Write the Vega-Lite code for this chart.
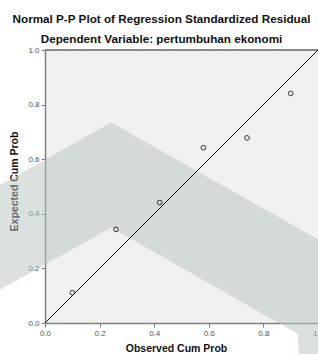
{
  "$schema": "https://vega.github.io/schema/vega-lite/v6.json",
  "width": 273,
  "height": 273,
  "autosize": {"type": "none"},
  "padding": {"left": 45, "top": 50, "right": 0, "bottom": 31},
  "background": "white",
  "title": {
    "text": "Normal P-P Plot of Regression Standardized Residual",
    "subtitle": "Dependent Variable: pertumbuhan ekonomi",
    "anchor": "middle",
    "dx": -20,
    "offset": 0,
    "font": "Liberation Sans",
    "fontSize": 11.7,
    "fontWeight": "bold",
    "color": "#111",
    "subtitleFont": "Liberation Sans",
    "subtitleFontSize": 11.7,
    "subtitleFontWeight": "bold",
    "subtitleColor": "#111",
    "subtitlePadding": 9
  },
  "config": {
    "view": {"fill": "#f0f0f0", "stroke": null},
    "axis": {
      "grid": false,
      "domainColor": "#808080",
      "domainWidth": 1.5,
      "tickColor": "#808080",
      "tickSize": 4,
      "tickWidth": 1,
      "labelFont": "Liberation Sans",
      "labelFontSize": 8,
      "labelColor": "#555",
      "labelPadding": 2,
      "titleFont": "Liberation Sans",
      "titleFontSize": 10.5,
      "titleFontWeight": "bold",
      "titleColor": "#111"
    }
  },
  "datasets": {
    "band": [
      {"x": -0.165, "upper": 0.505, "lower": 0.122},
      {"x": 0.2425, "upper": 0.734, "lower": 0.35},
      {"x": 0.927, "upper": 0.347, "lower": -0.04},
      {"x": 0.93, "upper": 0.345, "lower": -0.12},
      {"x": 1.0, "upper": 0.306, "lower": -0.12}
    ],
    "diag": [
      {"x": 0, "y": 0},
      {"x": 1, "y": 1}
    ],
    "points": [
      {"observed": 0.1, "expected": 0.111},
      {"observed": 0.26, "expected": 0.343},
      {"observed": 0.42, "expected": 0.441},
      {"observed": 0.58, "expected": 0.642},
      {"observed": 0.74, "expected": 0.678},
      {"observed": 0.9, "expected": 0.841}
    ]
  },
  "layer": [
    {
      "data": {"name": "band"},
      "mark": {"type": "area", "color": "#b8c4c0", "opacity": 0.5, "clip": false, "interpolate": "linear"},
      "encoding": {
        "x": {
          "field": "x", "type": "quantitative",
          "scale": {"domain": [0, 1], "nice": false, "zero": false},
          "axis": {
            "title": "Observed Cum Prob",
            "values": [0, 0.2, 0.4, 0.6, 0.8, 1.0],
            "format": ".1f",
            "labelFlush": false,
            "titlePadding": 6,
            "titleX": 131
          }
        },
        "y": {
          "field": "upper", "type": "quantitative",
          "scale": {"domain": [0, 1], "nice": false, "zero": false},
          "axis": {
            "title": "Expected Cum Prob",
            "values": [0, 0.2, 0.4, 0.6, 0.8, 1.0],
            "format": ".1f",
            "labelFlush": false,
            "titlePadding": 8,
            "titleY": 131
          }
        },
        "y2": {"field": "lower"}
      }
    },
    {
      "data": {"name": "diag"},
      "mark": {"type": "rule", "color": "#808080", "strokeWidth": 1.5},
      "encoding": {"y": {"datum": 1, "type": "quantitative"}}
    },
    {
      "data": {"name": "diag"},
      "mark": {"type": "line", "color": "#111", "strokeWidth": 1},
      "encoding": {
        "x": {"field": "x", "type": "quantitative"},
        "y": {"field": "y", "type": "quantitative"}
      }
    },
    {
      "data": {"name": "points"},
      "mark": {"type": "point", "shape": "circle", "filled": false, "size": 22, "stroke": "#333", "strokeWidth": 1, "opacity": 1},
      "encoding": {
        "x": {"field": "observed", "type": "quantitative"},
        "y": {"field": "expected", "type": "quantitative"}
      }
    }
  ]
}
